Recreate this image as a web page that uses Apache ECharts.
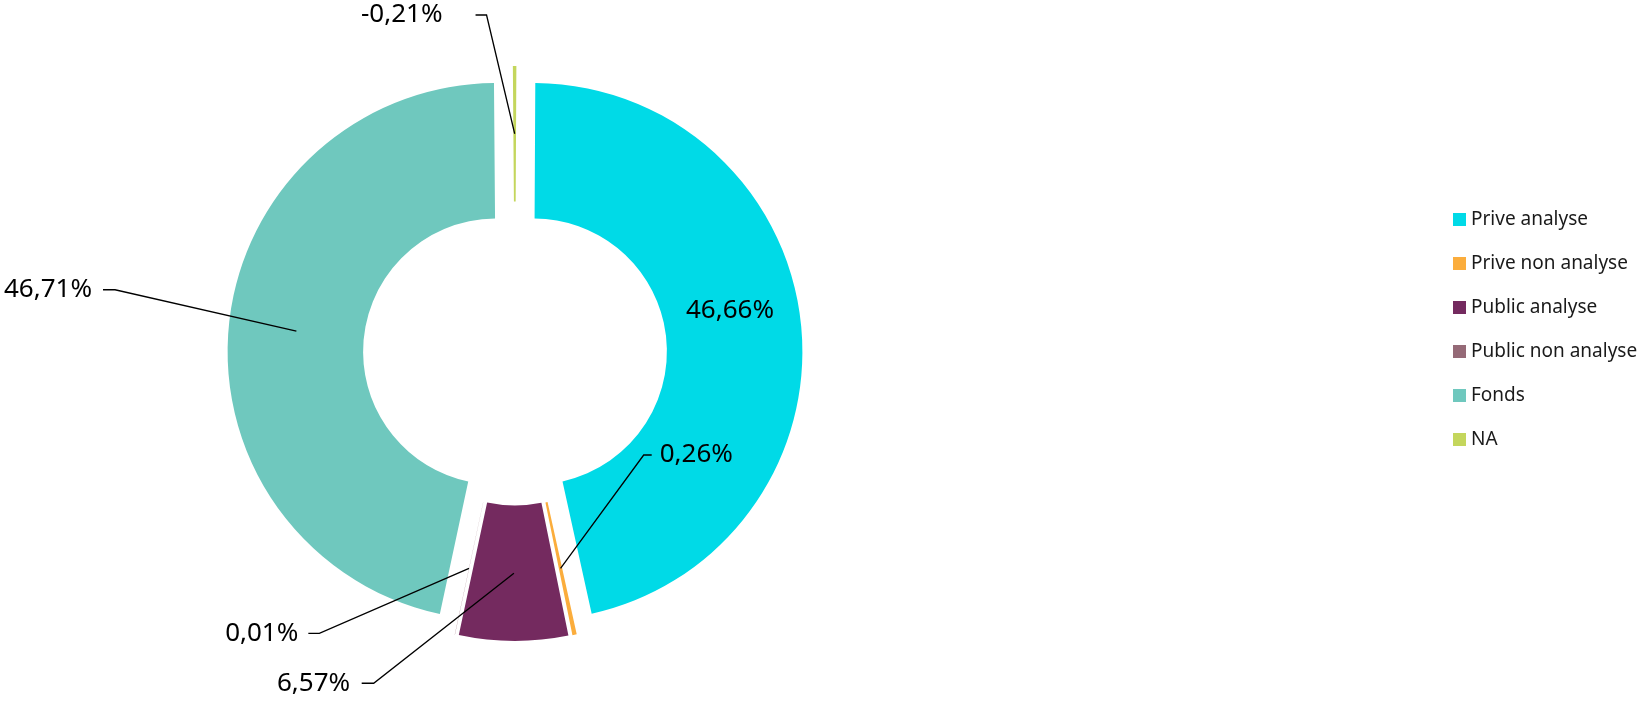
<!DOCTYPE html>
<html>
<head>
<meta charset="utf-8">
<script src="https://cdn.jsdelivr.net/npm/echarts@6/dist/echarts.min.js"></script>
<style>
  html, body { margin: 0; padding: 0; background: #ffffff; }
  #chart { width: 1645px; height: 701px; }
</style>
</head>
<body>
<div id="chart"></div>
<script>
// ---- data ----
const categories = ['Prive analyse', 'Prive non analyse', 'Public analyse', 'Public non analyse', 'Fonds', 'NA'];
const values = [46.66, 0.26, 6.57, 0.01, 46.71, -0.21];
const colors = ['#00dae7', '#fbad3c', '#742a5f', '#956a77', '#6fc8be', '#c4d65c'];

// ---- label layout (styles only) ----
const lineLen   = [0, -116, 110, 66.4, 182, 118.75];
const lineLen2  = [0, 115.2, 151.7, 146.8, 12.3, 39];
const labelGap  = [0, 8, 11.5, 10, 11, 33];
const labelLift = [0, 0, 0, 0, 23, 0];
const stubLen   = [0, 8, 12, 11, 12, 11];

const FONT = 'Noto Sans';
const fmt = v => v.toFixed(2).replace('.', ',') + '%';

const CENTER = [515, 353.5];
const common = {
  type: 'pie',
  center: CENTER,
  startAngle: 89.7,
  clockwise: true,
  selectedMode: 'multiple',
  selectedOffset: 19,
  avoidLabelOverlap: false,
  animation: false,
  emphasis: { disabled: true },
  select: { itemStyle: { borderWidth: 0 } }
};

const chart = echarts.init(document.getElementById('chart'));
chart.setOption({
  backgroundColor: '#ffffff',
  animation: false,
  legend: {
    orient: 'vertical',
    left: 1453,
    top: 210,
    padding: 0,
    itemWidth: 13,
    itemHeight: 13,
    itemGap: 25,
    icon: 'rect',
    selectedMode: false,
    data: categories,
    textStyle: { fontFamily: FONT, fontSize: 19, lineHeight: 19, color: '#1a1a1a' }
  },
  series: [
    Object.assign({}, common, {
      name: 'main',
      z: 2,
      radius: [133, 268.5],
      label: { show: false },
      labelLine: { show: false },
      data: categories.map((n, i) => ({
        name: n,
        value: Math.abs(values[i]),
        selected: true,
        itemStyle: { color: colors[i] },
        label: i === 0 ? {
          show: true,
          position: 'inside',
          formatter: () => fmt(values[i]) + '\n ',
          fontFamily: FONT,
          fontSize: 26,
          lineHeight: 38,
          color: '#000000',
          padding: [0, 13, 0, 0]
        } : { show: false }
      }))
    }),
    Object.assign({}, common, {
      name: 'labels',
      z: 3,
      radius: [133, 200.75],
      silent: true,
      legendHoverLink: false,
      itemStyle: { color: 'rgba(0,0,0,0)', borderWidth: 0 },
      label: {
        show: true,
        position: 'outside',
        fontFamily: FONT,
        fontSize: 26,
        color: '#000000'
      },
      labelLine: {
        show: true,
        smooth: false,
        minTurnAngle: 0,
        maxSurfaceAngle: 180,
        lineStyle: { color: '#000000', width: 1.3 }
      },
      labelLayout: function (p) {
        const pts = p.labelLinePoints;
        const stub = stubLen[p.dataIndex];
        if (!pts || !stub) return {};
        const lift = labelLift[p.dataIndex] || 0;
        const side = pts[2][0] >= pts[1][0] ? 1 : -1;
        const end = [pts[2][0], pts[2][1] - lift];
        const elbow = [end[0] - side * stub, end[1]];
        return { labelLinePoints: [pts[0], elbow, end] };
      },
      data: categories.map((n, i) => ({
        name: n,
        value: Math.abs(values[i]),
        selected: true,
        itemStyle: { color: 'rgba(0,0,0,0)' },
        label: i === 0 ? { show: false } : Object.assign({
          show: true,
          formatter: () => fmt(values[i]) + (labelLift[i] ? '\n ' : ''),
          distanceToLabelLine: labelGap[i]
        }, labelLift[i] ? { lineHeight: labelLift[i] * 2 } : {}),
        labelLine: i === 0 ? { show: false } : {
          show: true,
          length: lineLen[i],
          length2: lineLen2[i]
        }
      }))
    })
  ]
});
</script>
</body>
</html>
